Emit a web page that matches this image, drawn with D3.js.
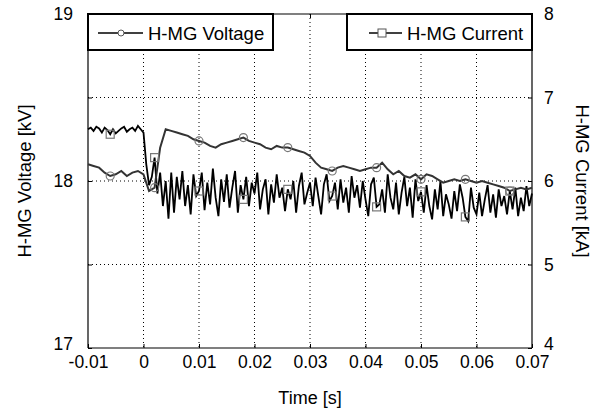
<!DOCTYPE html>
<html>
<head>
<meta charset="utf-8">
<script src="https://cdn.jsdelivr.net/npm/d3@7"></script>
<style>
  body { margin: 0; background: #fff; }
  svg { font-family: "Liberation Sans", Arial, sans-serif; }
</style>
</head>
<body>
<div id="chart"></div>
<script>
//data: time axis, voltage (1 ms step) and current (0.5 ms step)
const xTicks = [-0.01, 0, 0.01, 0.02, 0.03, 0.04, 0.05, 0.06, 0.07];
const voltageTicks = [17, 18, 19];
const currentTicks = [4, 5, 6, 7, 8];
const markerTimes = [-0.006, 0.002, 0.010, 0.018, 0.026, 0.034, 0.042, 0.050, 0.058, 0.066];

const voltageStart = -0.01, voltageStep = 0.001;
const voltageValues = [
  18.10, 18.09, 18.08, 18.05, 18.03, 18.04, 18.06, 18.03, 18.05, 18.06,
  18.04, 17.94, 17.96, 18.20, 18.31, 18.30, 18.29, 18.28, 18.27, 18.25,
  18.24, 18.23, 18.21, 18.20, 18.22, 18.23, 18.24, 18.25, 18.26, 18.24,
  18.23, 18.22, 18.20, 18.19, 18.21, 18.20, 18.20, 18.19, 18.18, 18.17,
  18.15, 18.11, 18.08, 18.07, 18.06, 18.08, 18.09, 18.08, 18.07, 18.06,
  18.07, 18.08, 18.08, 18.11, 18.07, 18.04, 18.06, 18.03, 18.02, 18.04,
  18.01, 18.04, 18.03, 18.01, 17.99, 18.00, 18.01, 18.00, 18.01, 18.00,
  17.99, 18.00, 17.99, 17.98, 17.97, 17.96, 17.94, 17.95, 17.96, 17.95,
  17.96
];

const currentStart = -0.01, currentStep = 0.0005;
const currentValues = [
  6.62, 6.64, 6.60, 6.65, 6.63, 6.58, 6.64, 6.61, 6.56, 6.62,
  6.57, 6.60, 6.63, 6.65, 6.59, 6.62, 6.64, 6.60, 6.66, 6.62,
  6.58, 6.20, 5.95, 6.05, 6.28, 5.85, 6.10, 5.70, 6.00, 5.55, 6.10,
  5.62, 6.05, 5.78, 6.12, 5.70, 5.95, 5.60, 6.08, 5.82, 5.88,
  6.10, 5.65, 5.98, 5.72, 6.15, 5.80, 5.58, 6.02, 5.75, 6.08,
  5.68, 5.92, 6.12, 5.62, 5.95, 5.78, 6.05, 5.70, 5.98, 5.85,
  6.10, 5.66, 5.90, 6.02, 5.60, 5.96, 5.74, 6.08, 5.80, 5.92,
  5.64, 5.90, 5.78, 6.00, 5.62, 5.94, 6.10, 5.72, 5.86, 5.98,
  5.70, 6.04, 5.82, 5.60, 5.96, 6.08, 5.76, 5.82, 5.98, 5.66,
  6.02, 5.74, 5.92, 5.62, 6.06, 5.80, 5.95, 5.68, 6.00, 5.78,
  5.58, 5.96, 6.04, 5.69, 5.72, 5.90, 5.62, 6.08, 5.80, 5.66,
  5.98, 5.60, 5.86, 6.05, 5.70, 5.92, 5.56, 6.02, 5.76, 5.87,
  5.62, 5.95, 5.70, 5.54, 5.90, 5.66, 6.00, 5.58, 5.84, 5.72,
  5.55, 5.88, 5.64, 5.96, 5.80, 5.57, 5.52, 5.92, 5.68, 5.60,
  5.86, 5.58, 5.78, 5.95, 5.62, 5.84, 5.56, 5.90, 5.70, 5.82,
  5.60, 5.88, 5.66, 5.92, 5.58, 5.80, 5.64, 5.94, 5.70, 5.85
];

//set up sizes
const width = 606, height = 411;
const margin = {left: 88, right: 74, top: 14, bottom: 63};
const plotW = width - margin.left - margin.right,
      plotH = height - margin.top - margin.bottom;

let svg = d3.select("#chart")
            .append("svg")
            .attr("width", width)
            .attr("height", height);
let g = svg.append("g")
           .attr("transform", `translate(${margin.left},${margin.top})`);

//scales
let x = d3.scaleLinear().domain([-0.01, 0.07]).range([0, plotW]);
let yV = d3.scaleLinear().domain([17, 19]).range([plotH, 0]);
let yI = d3.scaleLinear().domain([4, 8]).range([plotH, 0]);

//build point lists from the arrays
let voltage = voltageValues.map((v, i) => ({t: voltageStart + i*voltageStep, v: v}));
let current = currentValues.map((v, i) => ({t: currentStart + i*currentStep, v: v}));
function nearest(data, t) {
  return data.reduce((a, b) => Math.abs(b.t - t) < Math.abs(a.t - t) ? b : a);
}

//grid (dotted)
g.append("g").selectAll("line")
 .data(xTicks.slice(1, -1)).enter().append("line")
 .attr("x1", d => x(d)).attr("x2", d => x(d))
 .attr("y1", 0).attr("y2", plotH)
 .style("stroke", "#000").style("stroke-width", 1)
 .style("stroke-dasharray", "1,3");
g.append("g").selectAll("line")
 .data(currentTicks.slice(1, -1)).enter().append("line")
 .attr("x1", 0).attr("x2", plotW)
 .attr("y1", d => yI(d)).attr("y2", d => yI(d))
 .style("stroke", "#000").style("stroke-width", 1)
 .style("stroke-dasharray", "1,3");

//axes (hyphen minus like the original)
let axisB = g.append("g").attr("transform", `translate(0,${plotH})`)
             .call(d3.axisBottom(x).tickValues(xTicks).tickSize(-4).tickPadding(8)
                     .tickFormat(d => String(+d.toFixed(2))));
let axisT = g.append("g")
             .call(d3.axisTop(x).tickValues(xTicks).tickSize(-4).tickFormat(""));
let axisL = g.append("g")
             .call(d3.axisLeft(yV).tickValues([17, 17.5, 18, 18.5, 19]).tickSize(-4).tickPadding(15)
                     .tickFormat(d => voltageTicks.includes(d) ? String(d) : ""));
let axisR = g.append("g").attr("transform", `translate(${plotW},0)`)
             .call(d3.axisRight(yI).tickValues(currentTicks).tickSize(-4).tickPadding(12)
                     .tickFormat(d => String(d)));
[axisB, axisT, axisL, axisR].forEach(a => {
  a.selectAll("path").style("stroke", "#000").style("stroke-width", 1.2);
  a.selectAll("line").style("stroke", "#000");
  a.selectAll("text").style("font-size", "17.5px").style("fill", "#000");
});
axisB.selectAll("path").attr("d", `M0,0H${plotW}`);
axisT.selectAll("path").attr("d", `M0,0H${plotW}`);
axisL.selectAll("path").attr("d", `M0,0V${plotH}`);
axisR.selectAll("path").attr("d", `M0,0V${plotH}`);
//end labels sit a little off the corners
axisL.selectAll(".tick text").filter(d => d === 17).attr("dy", "0.1em");
axisR.selectAll(".tick text").filter(d => d === 4).attr("dy", "0.1em");

//current line
g.append("path")
 .datum(current)
 .attr("fill", "none")
 .attr("stroke", "#000")
 .attr("stroke-width", 1.8)
 .attr("d", d3.line().x(d => x(d.t)).y(d => yI(d.v)));

//voltage line
g.append("path")
 .datum(voltage)
 .attr("fill", "none")
 .attr("stroke", "#333")
 .attr("stroke-width", 2)
 .attr("d", d3.line().x(d => x(d.t)).y(d => yV(d.v)));

//markers
g.append("g").selectAll("circle")
 .data(markerTimes.map(t => nearest(voltage, t))).enter().append("circle")
 .attr("cx", d => x(d.t)).attr("cy", d => yV(d.v)).attr("r", 4)
 .style("fill", "none").style("stroke", "#777").style("stroke-width", 1.2);
g.append("g").selectAll("rect")
 .data(markerTimes.map(t => nearest(current, t))).enter().append("rect")
 .attr("x", d => x(d.t) - 4).attr("y", d => yI(d.v) - 4)
 .attr("width", 8).attr("height", 8)
 .style("fill", "none").style("stroke", "#777").style("stroke-width", 1.2);

//legends
function legend(x0, w, label, marker) {
  let lg = g.append("g").attr("transform", `translate(${x0},0)`);
  lg.append("rect").attr("x", 0).attr("y", 0).attr("width", w).attr("height", 36)
    .style("fill", "#fff").style("stroke", "#000").style("stroke-width", 2);
  lg.append("line").attr("x1", marker === "circle" ? 10 : 22).attr("x2", 55)
    .attr("y1", 19).attr("y2", 19).style("stroke", "#000").style("stroke-width", 1.6);
  if (marker === "circle") {
    lg.append("circle").attr("cx", 33).attr("cy", 19).attr("r", 3)
      .style("fill", "#fff").style("stroke", "#555");
  } else {
    lg.append("rect").attr("x", 31).attr("y", 15).attr("width", 8).attr("height", 8)
      .style("fill", "#fff").style("stroke", "#555");
  }
  lg.append("text").attr("x", 60).attr("y", 26)
    .style("font-size", "18.5px").text(label);
}
legend(0, 185, "H-MG Voltage", "circle");
legend(plotW - 185, 185, "H-MG Current", "square");

//axis titles
svg.append("text")
   .attr("x", margin.left + plotW/2).attr("y", 404)
   .style("text-anchor", "middle").style("font-size", "18px")
   .text("Time [s]");
svg.append("text")
   .attr("transform", `translate(31,${margin.top + plotH/2}) rotate(-90)`)
   .style("text-anchor", "middle").style("font-size", "18.5px")
   .text("H-MG Voltage [kV]");
svg.append("text")
   .attr("transform", `translate(576,${margin.top + plotH/2}) rotate(90)`)
   .style("text-anchor", "middle").style("font-size", "18.5px")
   .text("H-MG Current [kA]");
</script>
</body>
</html>
